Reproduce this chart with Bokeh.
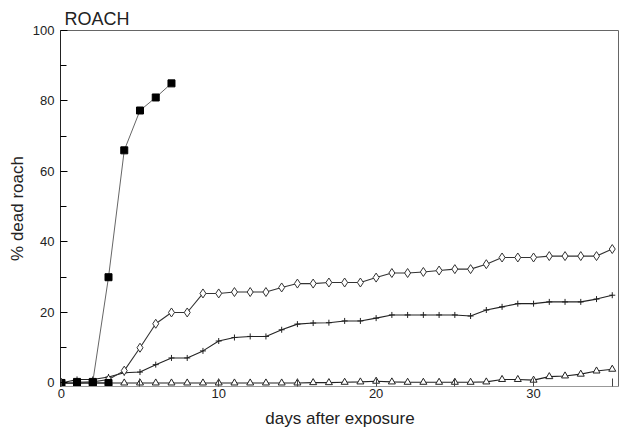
from bokeh.plotting import figure
from bokeh.models import FixedTicker, Range1d
from bokeh.embed import file_html
from bokeh.resources import INLINE

# ---- data ----
days = list(range(0, 36))

sq_days = [0, 1, 2, 3, 4, 5, 6, 7]
sq_vals = [0, 0.3, 0.3, 30, 66, 77.3, 81, 85]

sq0_days = [0, 1, 2, 3]
sq0_vals = [0, 0, 0, 0]

diamond_vals = [0, 0, 0.3, 1.0, 3.5, 10, 16.8, 20, 20, 25.4, 25.4, 25.8, 25.8, 25.8,
                27.1, 28.2, 28.2, 28.5, 28.5, 28.5, 29.9, 31.2, 31.2, 31.5, 31.9, 32.3,
                32.3, 33.7, 35.6, 35.6, 35.6, 36, 36, 36, 36, 38]

plus_vals = [0, 1.0, 1.0, 1.7, 2.9, 3.1, 5.2, 7.1, 7.1, 9.1, 11.9, 12.9, 13.2, 13.2,
             15.1, 16.7, 17.0, 17.1, 17.6, 17.6, 18.4, 19.3, 19.3, 19.3, 19.3, 19.3,
             19.0, 20.7, 21.6, 22.5, 22.5, 23.0, 23.0, 23.0, 23.8, 24.9]

tri_vals = [0] * 16 + [0.1, 0.1, 0.2, 0.3, 0.5, 0.3, 0.2, 0.2, 0.2, 0.2, 0.2, 0.3,
                       1.0, 1.0, 0.8, 1.8, 2.0, 2.5, 3.4, 3.9]

y_ticks = [0, 20, 40, 60, 80, 100]
y_minor = [10, 30, 50, 70, 90]
x_ticks = [0, 10, 20, 30]
x_minor = [5, 15, 25, 35]

FONT = "Liberation Sans"

p = figure(width=619, height=431, output_backend="svg", toolbar_location=None,
           x_range=Range1d(-0.05, 35.46), y_range=Range1d(-1, 100),
           min_border_left=60, min_border_right=0, min_border_top=30,
           min_border_bottom=45)

p.title.text = "ROACH"
p.title.text_font = FONT
p.title.text_font_size = "18px"
p.title.text_font_style = "normal"
p.title.text_color = "#222222"
p.title.offset = 4
p.title.standoff = 4

p.xgrid.visible = False
p.ygrid.visible = False
p.outline_line_color = "#666666"
p.background_fill_color = "white"
p.border_fill_color = "white"

# axes
p.yaxis.ticker = FixedTicker(ticks=y_ticks, minor_ticks=y_minor)
p.xaxis.ticker = FixedTicker(ticks=x_ticks, minor_ticks=x_minor)
for ax in (p.xaxis, p.yaxis):
    ax.major_tick_out = 0
    ax.minor_tick_out = 0
    ax.major_label_text_font = FONT
    ax.major_label_text_font_size = "13px"
    ax.major_label_text_color = "#222222"
    ax.axis_label_text_font = FONT
    ax.axis_label_text_font_size = "17px"
    ax.axis_label_text_font_style = "normal"
    ax.axis_label_text_color = "#222222"
p.yaxis.major_tick_in = 7
p.yaxis.minor_tick_in = 6
p.xaxis.major_tick_in = 8
p.xaxis.minor_tick_in = 8
p.yaxis.axis_line_color = "#222222"
p.xaxis.axis_line_color = "#999999"
p.xaxis.major_tick_line_color = "#444444"
p.xaxis.minor_tick_line_color = "#444444"
p.yaxis.major_label_standoff = 6
p.xaxis.major_label_standoff = 2
p.yaxis.axis_label = "% dead roach"
p.xaxis.axis_label = "days after exposure"
p.yaxis.axis_label_standoff = 3
p.xaxis.axis_label_standoff = 8

# series
p.line(days, tri_vals, line_color="#222222", line_width=1.1)
p.scatter(days, tri_vals, marker="triangle", size=7, line_color="#222222",
          fill_color="white", line_width=1)

p.line(days, plus_vals, line_color="#222222", line_width=1.1)
p.scatter(days, plus_vals, marker="cross", size=6, line_color="#222222", line_width=1)

p.line(days, diamond_vals, line_color="#333333", line_width=1.1)
p.scatter(days, diamond_vals, marker="diamond", size=9, line_color="#333333",
          fill_color="white", line_width=1)

p.line(sq0_days, sq0_vals, line_color="#222222", line_width=1)
p.scatter(sq0_days, sq0_vals, marker="square", size=7, line_color="black",
          fill_color="black")

p.line(sq_days, sq_vals, line_color="#666666", line_width=1)
p.scatter(sq_days, sq_vals, marker="square", size=7, line_color="black",
          fill_color="black")

open("out.html", "w").write(file_html(p, INLINE))
